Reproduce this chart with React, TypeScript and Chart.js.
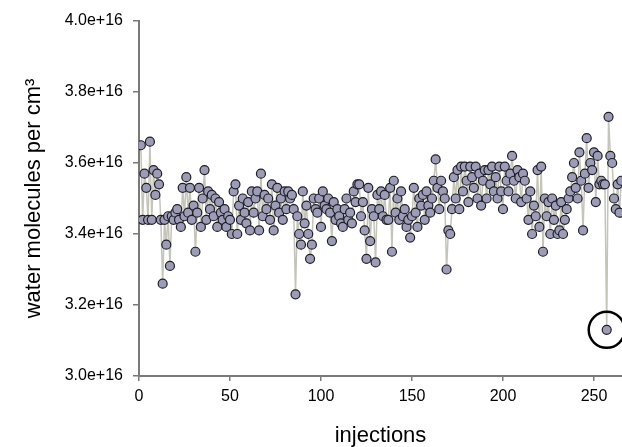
import React, { useEffect, useRef } from "react";
import { Chart, registerables } from "chart.js";

Chart.register(...registerables);

// water molecules per cm3 (in units of 1e16), one per injection starting at 1
const waterValues: number[] = [
  3.65, 3.44, 3.57, 3.53, 3.44, 3.66, 3.44, 3.58, 3.51, 3.57,
  3.54, 3.44, 3.26, 3.44, 3.37, 3.45, 3.31, 3.45, 3.44, 3.46,
  3.47, 3.44, 3.42, 3.53, 3.45, 3.56, 3.46, 3.53, 3.44, 3.48,
  3.35, 3.46, 3.53, 3.42, 3.50, 3.58, 3.44, 3.52, 3.47, 3.51,
  3.45, 3.50, 3.42, 3.49, 3.46, 3.44, 3.47, 3.42, 3.45, 3.44,
  3.40, 3.52, 3.54, 3.40, 3.48, 3.44, 3.50, 3.46, 3.43, 3.49,
  3.41, 3.52, 3.46, 3.50, 3.52, 3.41, 3.57, 3.45, 3.51, 3.47,
  3.50, 3.44, 3.54, 3.41, 3.48, 3.53, 3.46, 3.50, 3.44, 3.52,
  3.47, 3.52, 3.50, 3.51, 3.47, 3.23, 3.45, 3.40, 3.37, 3.52,
  3.43, 3.48, 3.40, 3.33, 3.37, 3.50, 3.47, 3.46, 3.50, 3.42,
  3.52, 3.48, 3.47, 3.50, 3.46, 3.38, 3.49, 3.44, 3.47, 3.45,
  3.43, 3.42, 3.47, 3.50, 3.44, 3.46, 3.43, 3.52, 3.49, 3.54,
  3.54, 3.45, 3.49, 3.41, 3.33, 3.53, 3.38, 3.47, 3.45, 3.32,
  3.51, 3.47, 3.52, 3.45, 3.51, 3.44, 3.44, 3.53, 3.35, 3.55,
  3.46, 3.50, 3.44, 3.52, 3.45, 3.47, 3.42, 3.44, 3.39, 3.45,
  3.53, 3.46, 3.42, 3.50, 3.48, 3.51, 3.44, 3.52, 3.48, 3.46,
  3.50, 3.55, 3.61, 3.53, 3.47, 3.55, 3.52, 3.50, 3.30, 3.41,
  3.40, 3.47, 3.56, 3.50, 3.58, 3.47, 3.59, 3.52, 3.59, 3.55,
  3.49, 3.59, 3.56, 3.53, 3.59, 3.50, 3.57, 3.48, 3.55, 3.58,
  3.50, 3.58, 3.54, 3.59, 3.52, 3.56, 3.50, 3.59, 3.52, 3.47,
  3.59, 3.55, 3.52, 3.57, 3.62, 3.55, 3.50, 3.58, 3.56, 3.49,
  3.57, 3.55, 3.50, 3.44, 3.52, 3.40, 3.48, 3.45, 3.58, 3.42,
  3.59, 3.35, 3.50, 3.45, 3.49, 3.40, 3.50, 3.44, 3.48, 3.40,
  3.41, 3.49, 3.40, 3.44, 3.47, 3.50, 3.52, 3.56, 3.60, 3.53,
  3.50, 3.63, 3.55, 3.41, 3.57, 3.67, 3.53, 3.60, 3.58, 3.63,
  3.49, 3.62, 3.54, 3.55, 3.54, 3.54, 3.13, 3.73, 3.62, 3.60,
  3.50, 3.47, 3.54, 3.46, 3.55,
];

// circled outlier
const highlightInjection: number[] = [257];
const highlightValue: number[] = [3.13];

const yTicksMin = 3.0e16;
const yTicksMax = 4.0e16;
const yStep = 0.2e16;
const xMin = 0;
const xMax = 265.4;
const xStep = 50;

const FONT = "'Liberation Sans', Arial, Helvetica, sans-serif";

export default function App() {
  const ref = useRef<HTMLCanvasElement | null>(null);

  useEffect(() => {
    if (!ref.current) return;
    const points = waterValues.map((v, i) => ({ x: i + 1, y: v * 1e16 }));
    const circled = highlightInjection.map((x, i) => ({ x, y: highlightValue[i] * 1e16 }));
    const axisColor = "#7a7a7a";
    const chart = new Chart(ref.current, {
      type: "scatter",
      data: {
        datasets: [
          {
            data: points,
            showLine: true,
            borderColor: "#c4c4b8",
            borderWidth: 1.5,
            pointRadius: 4.5,
            pointBorderWidth: 1.2,
            pointBackgroundColor: "#9c9cb6",
            pointBorderColor: "#1e1e28",
            order: 2,
          },
          {
            data: circled,
            showLine: false,
            pointRadius: 18,
            pointBorderWidth: 2.5,
            pointBackgroundColor: "rgba(0,0,0,0)",
            pointBorderColor: "#000000",
            clip: false,
            order: 1,
          } as any,
        ],
      },
      options: {
        animation: false,
        responsive: false,
        layout: { autoPadding: false, padding: { left: 0, top: 21, right: 0, bottom: 0 } },
        plugins: { legend: { display: false }, tooltip: { enabled: false } },
        scales: {
          x: {
            type: "linear",
            min: xMin,
            max: xMax,
            afterFit: (s: any) => {
              s.height = 71;
              s.paddingLeft = 0;
              s.paddingRight = 0;
            },
            border: { color: axisColor, width: 2 },
            grid: { drawOnChartArea: false, tickLength: 5, color: axisColor, lineWidth: 1.5 },
            ticks: {
              stepSize: xStep,
              includeBounds: false,
              color: "#000",
              padding: 6,
              font: { family: FONT, size: 16 },
            },
            title: {
              display: true,
              text: "injections",
              color: "#000",
              padding: { top: 0, bottom: 0 },
              font: { family: FONT, size: 22, lineHeight: 1.0 },
            },
          },
          y: {
            type: "linear",
            min: yTicksMin,
            max: yTicksMax,
            afterFit: (s: any) => {
              s.width = 139;
            },
            border: { color: axisColor, width: 2 },
            grid: { drawOnChartArea: false, tickLength: 6, color: axisColor, lineWidth: 1.5 },
            ticks: {
              stepSize: yStep,
              color: "#000",
              padding: 10,
              font: { family: FONT, size: 16 },
              callback: (v: any) => Number(v).toExponential(1),
            },
            title: {
              display: true,
              text: "water molecules per cm³",
              color: "#000",
              padding: { top: 21, bottom: 0 },
              font: { family: FONT, size: 22 },
            },
          },
        },
      },
    });
    return () => chart.destroy();
  }, []);

  return (
    <div style={{ position: "fixed", left: 0, top: 0, width: 622, height: 447, background: "#fff" }}>
      <canvas ref={ref} width={622} height={447} style={{ display: "block", width: 622, height: 447 }} />
    </div>
  );
}
